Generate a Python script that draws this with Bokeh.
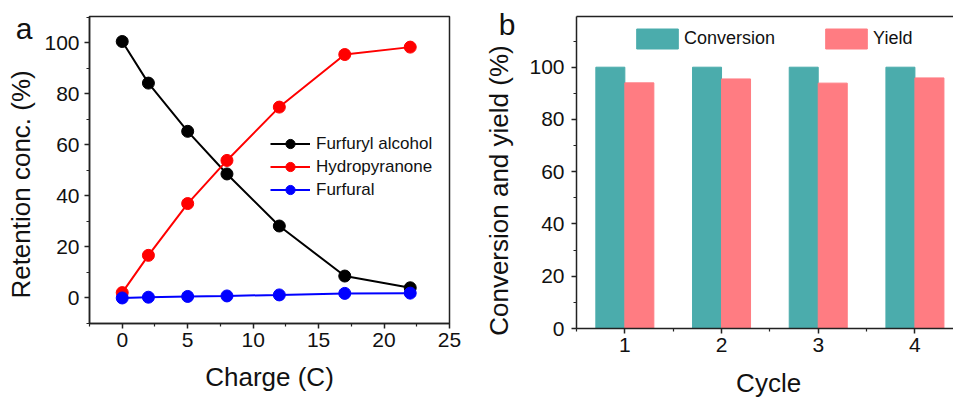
import numpy as np
from bokeh.plotting import figure
from bokeh.models import (Range1d, FixedTicker, LinearAxis, Legend,
                          LegendItem, ColumnDataSource)
from bokeh.layouts import row
from bokeh.transform import dodge
from bokeh.embed import file_html
from bokeh.resources import INLINE

# ---------------- data ----------------
charge = [0, 2, 5, 8, 12, 17, 22]
furfuryl_alcohol = [100.5, 84.2, 65.3, 48.6, 28.2, 8.6, 4.0]
hydropyranone = [2.1, 16.7, 37.0, 53.9, 74.8, 95.4, 98.3]
furfural = [0.0, 0.3, 0.6, 0.8, 1.2, 1.8, 1.9]

cycles = [1, 2, 3, 4]
conversion = [100, 100, 100, 100]
yield_pct = [94.0, 95.5, 93.9, 95.9]

x_ticks_a = [0, 5, 10, 15, 20, 25]
x_minor_a = [-2.5, 2.5, 7.5, 12.5, 17.5, 22.5]
y_ticks_a = [0, 20, 40, 60, 80, 100]
y_minor_a = [-10, 10, 30, 50, 70, 90, 110]
x_ticks_b = [1, 2, 3, 4]
x_minor_b = [0.5, 1.5, 2.5, 3.5, 4.5]
y_ticks_b = [0, 20, 40, 60, 80, 100]
y_minor_b = [10, 30, 50, 70, 90, 110]

FONT = "Liberation Sans"
AX = "#222222"
TEAL = "#4BACAC"
PINK = "#FF7C82"
NB = "\u00a0"


def style_axis(ax, ticks, minor):
    ax.ticker = FixedTicker(ticks=ticks, minor_ticks=minor)
    ax.axis_line_color = AX
    ax.axis_line_width = 1.5
    ax.major_tick_line_color = AX
    ax.major_tick_line_width = 1.5
    ax.minor_tick_line_color = AX
    ax.minor_tick_line_width = 1.2
    ax.major_tick_out = 5
    ax.major_tick_in = 0
    ax.minor_tick_out = 3
    ax.minor_tick_in = 0
    ax.major_label_text_font = FONT
    ax.major_label_text_font_size = "21px"
    ax.major_label_text_color = "#111111"
    ax.major_label_standoff = 4
    ax.axis_label_text_font = FONT
    ax.axis_label_text_font_size = "26px"
    ax.axis_label_text_font_style = "normal"
    ax.axis_label_text_color = "#111111"


def panel_letter(p, text, yval, standoff):
    # a bare left axis that only carries the panel letter as its single tick label
    ax = LinearAxis(ticker=FixedTicker(ticks=[yval], minor_ticks=[]),
                    major_label_overrides={yval: text},
                    axis_line_color=None, major_tick_line_color=None,
                    minor_tick_line_color=None, major_tick_out=0, major_tick_in=0,
                    minor_tick_out=0, minor_tick_in=0,
                    major_label_standoff=standoff,
                    major_label_text_font=FONT, major_label_text_font_size="30px",
                    major_label_text_color="#111111")
    p.add_layout(ax, "left")


# ---------------- panel a ----------------
pa = figure(width=480, height=396, output_backend="svg", toolbar_location=None,
            x_range=Range1d(-2.5, 25), y_range=Range1d(-10, 110.3),
            min_border_left=89, min_border_right=31,
            min_border_top=16, min_border_bottom=73)
pa.xgrid.visible = False
pa.ygrid.visible = False
pa.outline_line_color = AX
pa.outline_line_width = 1.5
style_axis(pa.xaxis[0], x_ticks_a, x_minor_a)
style_axis(pa.yaxis[0], y_ticks_a, y_minor_a)
pa.yaxis[0].major_label_standoff = 5
pa.xaxis[0].axis_label = "Charge (C)"
pa.xaxis[0].axis_label_standoff = 12
pa.yaxis[0].axis_label = "Retention conc. (%)" + NB * 4
pa.yaxis[0].axis_label_standoff = 5

series = [("Furfuryl alcohol", furfuryl_alcohol, "#000000"),
          ("Hydropyranone", hydropyranone, "#FF0000"),
          ("Furfural", furfural, "#0000FF")]
items = []
for name, vals, col in series:
    src = ColumnDataSource(dict(x=charge, y=vals))
    l = pa.line("x", "y", source=src, line_color=col, line_width=2)
    s = pa.scatter("x", "y", source=src, size=12, fill_color=col, line_color=col)
    items.append(LegendItem(label=name, renderers=[l, s]))

leg_a = Legend(items=items, location=(181, 122), orientation="vertical",
               glyph_width=40, glyph_height=23, label_height=23, spacing=0,
               label_standoff=6, padding=0, margin=0,
               border_line_color=None, background_fill_alpha=0,
               label_text_font=FONT, label_text_font_size="17px",
               label_text_color="#111111")
pa.add_layout(leg_a)
panel_letter(pa, "a", 105.5, -29)

# ---------------- panel b ----------------
pb = figure(width=473, height=401, output_backend="svg", toolbar_location=None,
            x_range=Range1d(0.5, 4.399), y_range=Range1d(0, 119.4),
            min_border_left=96, min_border_right=0,
            min_border_top=16, min_border_bottom=73)
pb.xgrid.visible = False
pb.ygrid.visible = False
pb.outline_line_color = None
style_axis(pb.xaxis[0], x_ticks_b, x_minor_b)
style_axis(pb.yaxis[0], y_ticks_b, y_minor_b)
pb.yaxis[0].major_label_standoff = 7
pb.xaxis[0].axis_label = NB + "Cycle"
pb.xaxis[0].axis_label_standoff = 13
pb.yaxis[0].axis_label = "Conversion and yield (%)" + NB * 5
pb.yaxis[0].axis_label_standoff = 12

top = LinearAxis(ticker=FixedTicker(ticks=[]), major_label_text_font_size="0px",
                 major_tick_out=0, minor_tick_out=0, major_tick_in=0, minor_tick_in=0,
                 major_label_standoff=0, axis_line_color=AX, axis_line_width=1.5)
pb.add_layout(top, "above")

bsrc = ColumnDataSource(dict(cycle=cycles, conversion=conversion, yld=yield_pct))
r1 = pb.vbar(x=dodge("cycle", -0.15, range=pb.x_range), top="conversion", width=0.3,
             source=bsrc, fill_color=TEAL, line_color=TEAL)
r2 = pb.vbar(x=dodge("cycle", 0.15, range=pb.x_range), top="yld", width=0.3,
             source=bsrc, fill_color=PINK, line_color=PINK)

leg_b = Legend(items=[LegendItem(label="Conversion", renderers=[r1]),
                      LegendItem(label="Yield", renderers=[r2])],
               location=(55, 277), orientation="horizontal",
               glyph_width=52, glyph_height=25, label_height=25, spacing=45,
               label_standoff=1, padding=0, margin=0,
               border_line_color=None, background_fill_alpha=0,
               label_text_font=FONT, label_text_font_size="18px",
               label_text_color="#111111")
pb.add_layout(leg_b)
panel_letter(pb, "b", 116.4, -34)

layout = row(pa, pb, spacing=0)
open("out.html", "w").write(file_html(layout, INLINE))
